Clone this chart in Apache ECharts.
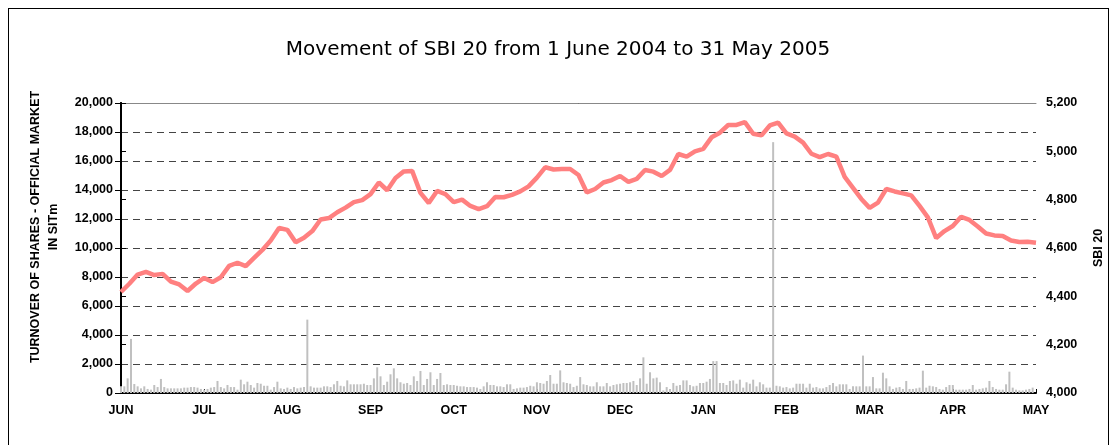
<!DOCTYPE html>
<html>
<head>
<meta charset="utf-8">
<title>SBI 20</title>
<script src="https://cdn.jsdelivr.net/npm/echarts@6/dist/echarts.min.js"></script>
<style>
  html, body { margin: 0; padding: 0; background: #fff; }
  #frame { position: absolute; left: 8px; top: 8px; width: 1099px; height: 460px; border: 1px solid #000; }
  #chart { position: absolute; left: 0; top: 0; width: 1116px; height: 445px; }
</style>
</head>
<body>
<div id="frame"></div>
<div id="chart"></div>
<script>
// month labels, one every 25 trading days
const months = ['JUN', 'JUL', 'AUG', 'SEP', 'OCT', 'NOV', 'DEC', 'JAN', 'FEB', 'MAR', 'APR', 'MAY']
const daysPerMonth = 25

// daily turnover (SIT m), one array per month
const turnoverJun = [460, 460, 1010, 3730, 620, 460, 320, 460, 280, 230, 550, 410, 970, 410, 320, 320, 320, 320, 320, 370, 370, 410, 410, 370, 280]
const turnoverJul = [230, 280, 370, 410, 830, 410, 320, 550, 410, 410, 230, 920, 600, 780, 550, 370, 690, 640, 500, 500, 230, 410, 780, 320, 280]
const turnoverAug = [370, 280, 410, 320, 370, 410, 5060, 460, 370, 370, 370, 460, 460, 410, 600, 830, 500, 460, 870, 600, 600, 600, 600, 640, 550]
const turnoverSep = [550, 1010, 1770, 1150, 550, 780, 1290, 1700, 1010, 740, 640, 690, 550, 1150, 830, 1520, 550, 970, 1430, 550, 970, 1380, 550, 600, 550]
const turnoverOct = [550, 500, 460, 460, 410, 410, 410, 370, 280, 460, 740, 550, 550, 460, 460, 410, 600, 600, 280, 320, 370, 370, 410, 500, 460]
const turnoverNov = [740, 690, 640, 830, 1240, 640, 640, 1560, 740, 690, 640, 410, 500, 1100, 600, 550, 460, 460, 740, 460, 460, 690, 460, 550, 600]
const turnoverDec = [640, 690, 690, 740, 830, 550, 1010, 2460, 640, 1430, 1010, 1060, 740, 180, 410, 280, 690, 500, 550, 870, 870, 550, 460, 500, 690]
const turnoverJan = [690, 780, 970, 2200, 2200, 690, 690, 550, 830, 870, 640, 920, 370, 740, 640, 920, 460, 740, 600, 370, 370, 17300, 500, 460, 370]
const turnoverFeb = [410, 320, 370, 640, 640, 640, 370, 640, 370, 410, 320, 320, 410, 550, 690, 460, 600, 600, 600, 280, 460, 460, 460, 2580, 460]
const turnoverMar = [460, 1100, 320, 320, 1400, 1010, 460, 280, 370, 410, 280, 830, 280, 280, 320, 370, 1540, 370, 500, 460, 410, 280, 230, 410, 550]
const turnoverApr = [550, 230, 230, 230, 230, 280, 550, 230, 280, 320, 370, 830, 410, 280, 230, 230, 600, 1470, 370, 230, 180, 180, 230, 280, 370]

// SBI 20 index, read every 2.5 trading days
const sbiStep = 2.5
const sbi20 = [
  4418, 4452, 4490, 4501, 4488, 4493, 4461, 4449, 4422, 4453,
  4476, 4459, 4479, 4526, 4539, 4525, 4559, 4592, 4631, 4683,
  4675, 4624, 4642, 4670, 4718, 4724, 4748, 4767, 4790, 4798,
  4823, 4871, 4839, 4890, 4917, 4919, 4828, 4786, 4836, 4823,
  4790, 4800, 4774, 4761, 4773, 4811, 4810, 4820, 4834, 4855,
  4891, 4934, 4925, 4927, 4927, 4902, 4830, 4844, 4871, 4881,
  4898, 4874, 4886, 4923, 4916, 4898, 4923, 4989, 4978, 5000,
  5010, 5058, 5077, 5109, 5109, 5121, 5073, 5066, 5107, 5119,
  5074, 5061, 5036, 4990, 4976, 4989, 4978, 4894, 4849, 4803,
  4766, 4788, 4844, 4834, 4826, 4818, 4774, 4727, 4641, 4670,
  4691, 4729, 4716, 4689, 4660, 4652, 4650, 4631, 4625, 4626,
  4622
]

const turnover = [].concat(turnoverJun, turnoverJul, turnoverAug, turnoverSep, turnoverOct,
  turnoverNov, turnoverDec, turnoverJan, turnoverFeb, turnoverMar, turnoverApr)

const barData = turnover.map((v, i) => [i, v])
const lineData = sbi20.map((v, i) => [i * sbiStep, v])

const font = 'Liberation Sans, Arial, sans-serif'
const fmt = v => v.toLocaleString('en-US')
const labelStyle = { color: '#000', fontFamily: font, fontSize: 12.5, fontWeight: 'bold' }

let myChart = echarts.init(document.getElementById('chart'))
myChart.setOption({
  animation: false,
  title: {
    text: 'Movement of SBI 20 from 1 June 2004 to 31 May 2005',
    left: 'center',
    top: 35,
    textStyle: { fontFamily: 'DejaVu Sans', fontSize: 20, fontWeight: 'normal', color: '#000' }
  },
  grid: { left: 121, right: 80, top: 103, bottom: 52 },
  xAxis: [
    {
      type: 'value',
      min: 0,
      max: months.length * daysPerMonth - daysPerMonth,
      interval: daysPerMonth,
      axisLine: { lineStyle: { color: '#000', width: 2 } },
      axisTick: { inside: true, length: 4, lineStyle: { color: '#000' } },
      axisLabel: Object.assign({
        margin: 11,
        formatter: v => months[Math.round(v / daysPerMonth)] || ''
      }, labelStyle),
      splitLine: { show: false }
    },
    {
      // grey top border of the plot
      type: 'value',
      position: 'top',
      min: 0,
      max: 275,
      axisLine: { show: true, lineStyle: { color: '#888', width: 1 } },
      axisTick: { show: false },
      axisLabel: { show: false },
      splitLine: { show: false }
    }
  ],
  yAxis: [
    {
      type: 'value',
      min: 0,
      max: 20000,
      interval: 2000,
      name: 'TURNOVER OF SHARES - OFFICIAL MARKET\nIN SITm',
      nameLocation: 'middle',
      nameRotate: 90,
      nameGap: 58,
      nameTextStyle: Object.assign({ lineHeight: 18, padding: [0, 0, 0, 42] }, labelStyle),
      axisLine: { show: true, lineStyle: { color: '#000', width: 2 } },
      axisTick: { show: true, length: 6, lineStyle: { color: '#000' } },
      axisLabel: Object.assign({ margin: 8, formatter: fmt }, labelStyle),
      splitLine: { show: true, lineStyle: { color: '#444', type: [7, 5], width: 1 } }
    },
    {
      type: 'value',
      min: 4000,
      max: 5200,
      interval: 200,
      position: 'right',
      name: 'SBI 20',
      nameLocation: 'middle',
      nameRotate: 90,
      nameGap: 56,
      nameTextStyle: labelStyle,
      axisLine: { show: true, lineStyle: { color: '#000', width: 2 } },
      axisTick: { show: true, length: 5, lineStyle: { color: '#000' } },
      axisLabel: Object.assign({ margin: 10, formatter: fmt }, labelStyle),
      splitLine: { show: false }
    }
  ],
  series: [
    {
      name: 'Turnover',
      type: 'bar',
      yAxisIndex: 0,
      barWidth: 2,
      itemStyle: { color: '#c0c0c0' },
      data: barData
    },
    {
      name: 'SBI 20',
      type: 'line',
      yAxisIndex: 1,
      showSymbol: false,
      lineStyle: { color: '#ff8080', width: 4.5 },
      z: 3,
      data: lineData
    }
  ]
})
</script>
</body>
</html>
